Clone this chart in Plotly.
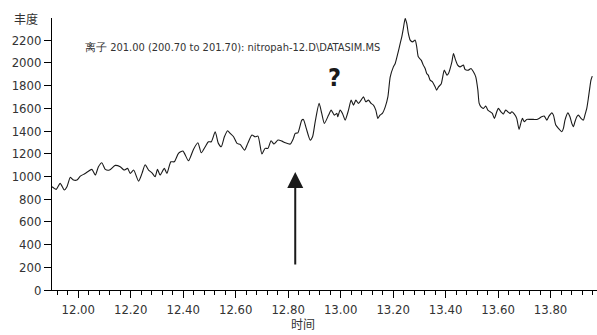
import plotly.graph_objects as go

# Extracted ion chromatogram, m/z 201 window: retention time (min) vs abundance
time_min = [
    11.900, 11.916, 11.931, 11.947, 11.957, 11.970, 11.982, 11.995, 12.008, 12.020,
    12.033, 12.052, 12.065, 12.077, 12.090, 12.103, 12.119, 12.141, 12.160, 12.175,
    12.188, 12.198, 12.211, 12.230, 12.243, 12.255, 12.268, 12.281, 12.293, 12.302,
    12.312, 12.328, 12.338, 12.353, 12.366, 12.382, 12.399, 12.420, 12.439, 12.456,
    12.469, 12.484, 12.496, 12.507, 12.522, 12.534, 12.545, 12.557, 12.569, 12.579,
    12.592, 12.605, 12.617, 12.634, 12.646, 12.662, 12.674, 12.685, 12.700, 12.712,
    12.723, 12.735, 12.746, 12.761, 12.776, 12.789, 12.808, 12.820, 12.827, 12.837,
    12.852, 12.858, 12.869, 12.884, 12.893, 12.903, 12.918, 12.928, 12.938, 12.954,
    12.964, 12.976, 12.986, 12.989, 12.998, 13.007, 13.017, 13.030, 13.040, 13.049,
    13.058, 13.068, 13.078, 13.087, 13.096, 13.106, 13.116, 13.125, 13.134, 13.142,
    13.150, 13.159, 13.170, 13.180, 13.189, 13.201, 13.208, 13.218, 13.227, 13.233,
    13.239, 13.246, 13.252, 13.258, 13.265, 13.274, 13.284, 13.290, 13.296, 13.307,
    13.315, 13.322, 13.328, 13.334, 13.341, 13.350, 13.360, 13.366, 13.373, 13.383,
    13.388, 13.395, 13.405, 13.411, 13.424, 13.430, 13.436, 13.446, 13.455, 13.468,
    13.474, 13.487, 13.497, 13.506, 13.515, 13.523, 13.528, 13.535, 13.544, 13.553,
    13.561, 13.570, 13.578, 13.586, 13.595, 13.601, 13.611, 13.620, 13.629, 13.637,
    13.646, 13.652, 13.662, 13.671, 13.680, 13.688, 13.693, 13.700, 13.709, 13.722,
    13.735, 13.747, 13.756, 13.766, 13.776, 13.786, 13.794, 13.805, 13.811, 13.820,
    13.830, 13.843, 13.849, 13.855, 13.866, 13.874, 13.881, 13.887, 13.893, 13.900,
    13.906, 13.916, 13.925, 13.931, 13.938, 13.944, 13.950, 13.954, 13.959,
]
abundance = [
    909, 886, 939, 880, 909, 992, 968, 968, 1003, 1018,
    1036, 1062, 1012, 1085, 1120, 1062, 1056, 1097, 1085, 1056,
    1071, 1027, 1056, 959, 1027, 1103, 1056, 1032, 997, 1062,
    1012, 1071, 1027, 1129, 1129, 1203, 1223, 1138, 1238, 1296,
    1208, 1261, 1305, 1305, 1393, 1291, 1261, 1349, 1402, 1379,
    1349, 1291, 1282, 1232, 1291, 1364, 1349, 1355, 1197, 1247,
    1247, 1314, 1285, 1320, 1311, 1296, 1285, 1335, 1379, 1384,
    1496, 1502, 1423, 1320, 1349, 1481, 1643, 1555, 1467, 1540,
    1584, 1540, 1555, 1525, 1584, 1555, 1496, 1584, 1672, 1628,
    1672, 1643, 1672, 1701, 1657, 1672, 1643, 1628, 1584, 1511,
    1540, 1555, 1613, 1701, 1877, 1965, 1995, 2083, 2171, 2229,
    2303, 2391, 2347, 2259, 2200, 2185, 2200, 2141, 2053, 2024,
    1980, 1951, 1907, 1892, 1848, 1833, 1789, 1760, 1789, 1813,
    1863, 1936, 1892, 1907, 2009, 2083, 2039, 1980, 1965, 1980,
    1942, 1936, 1951, 1921, 1877, 1760, 1643, 1613, 1599, 1619,
    1584, 1569, 1555, 1511, 1569, 1599, 1569, 1549, 1584, 1569,
    1555, 1569, 1549, 1511, 1414, 1481, 1511, 1481, 1502, 1502,
    1502, 1502, 1511, 1525, 1531, 1496, 1531, 1560, 1540, 1452,
    1423, 1393, 1423, 1496, 1560, 1525, 1467, 1437, 1481, 1525,
    1540, 1511, 1496, 1540, 1599, 1687, 1789, 1848, 1883,
]

x_ticks = [12.00, 12.20, 12.40, 12.60, 12.80, 13.00, 13.20, 13.40, 13.60, 13.80]
y_ticks = [0, 200, 400, 600, 800, 1000, 1200, 1400, 1600, 1800, 2000, 2200]

title_text = "离子 201.00 (200.70 to 201.70): nitropah-12.D\\DATASIM.MS"
marked_time = 12.827

TXT = "#333333"
FONT = "DejaVu Sans Condensed, Liberation Sans Narrow, Roboto Condensed, sans-serif"
CJK = "Noto Sans CJK SC, sans-serif"

fig = go.Figure()
fig.add_trace(go.Scatter(
    x=time_min, y=abundance, mode="lines",
    line=dict(color="#1a1a1a", width=1.1, shape="spline", smoothing=0.6),
    hoverinfo="skip", showlegend=False,
))

fig.update_layout(
    width=597, height=335,
    margin=dict(l=52, r=0, t=18, b=45),
    paper_bgcolor="white", plot_bgcolor="white",
    font=dict(family=FONT, size=13, color=TXT),
    xaxis=dict(
        range=[11.900, 13.977],
        tickmode="array", tickvals=x_ticks,
        ticktext=[f"{v:.2f}" for v in x_ticks],
        ticks="outside", ticklen=7, tickcolor="black", tickwidth=1,
        minor=dict(dtick=0.04, tick0=12.0, ticks="outside", ticklen=4,
                   tickcolor="black", tickwidth=1),
        showline=True, linecolor="black", linewidth=1,
        showgrid=False, zeroline=False,
        tickfont=dict(family=FONT, size=13, color=TXT),
    ),
    yaxis=dict(
        range=[0, 2395],
        tickmode="array", tickvals=y_ticks,
        ticks="outside", ticklen=7, tickcolor="black", tickwidth=1,
        showline=True, linecolor="black", linewidth=1,
        showgrid=False, zeroline=False,
        tickfont=dict(family=FONT, size=13, color=TXT),
    ),
)

annotations = [
    dict(text="丰度", xref="paper", yref="paper", x=-0.048, y=1.0,
         xanchor="center", yanchor="middle", showarrow=False,
         font=dict(family=CJK, size=12, color=TXT)),
    dict(text="时间", xref="paper", yref="paper", x=0.461, y=-0.122,
         xanchor="center", yanchor="middle", showarrow=False,
         font=dict(family=CJK, size=12, color=TXT)),
    dict(text=title_text, xref="paper", yref="paper", x=0.057, y=0.893,
         xanchor="left", yanchor="middle", showarrow=False,
         font=dict(family=FONT, size=11, color=TXT)),
    dict(text="<b>?</b>", xref="paper", yref="paper", x=0.518, y=0.78,
         xanchor="center", yanchor="middle", showarrow=False,
         font=dict(family=FONT, size=25, color="#1a1a1a")),
    dict(text="", x=marked_time, y=1038, xref="x", yref="y",
         ax=marked_time, ay=211, axref="x", ayref="y",
         showarrow=True, arrowhead=2, arrowsize=1.6, arrowwidth=2,
         arrowcolor="#1a1a1a"),
]
fig.update_layout(annotations=annotations)

fig.write_html("out.html")
